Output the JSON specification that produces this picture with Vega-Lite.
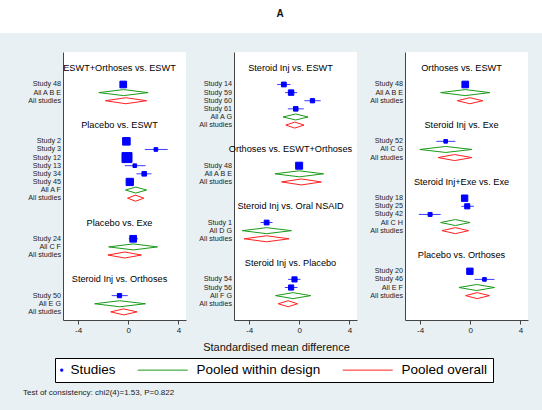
{
 "$schema": "https://vega.github.io/schema/vega-lite/v6.json",
 "background": "#e9f0f3",
 "padding": {"left": 0, "top": 0, "right": 0, "bottom": 14},
 "config": {"font": "Liberation Sans", "view": {"stroke": null}, "legend": {"labelFont": "Liberation Sans"}},
 "title": {"text": "Test of consistency: chi2(4)=1.53, P=0.822", "orient": "bottom", "anchor": "start", "fontSize": 8, "fontWeight": "normal", "color": "#222", "offset": 6, "dx": 23, "baseline": "top", "frame": "bounds"},
 "datasets": {"rows": [
  {"p":1,"row":2,"type":"title","label":"ESWT+Orthoses vs. ESWT"},
  {"p":1,"row":4,"type":"study","kind":"Studies","label":"Study 48","est":-0.4,"lo":-0.55,"hi":-0.25,"w":54},
  {"p":1,"row":5,"type":"diamond","kind":"Pooled within design","label":"All A B E","est":-0.38,"lo":-2.35,"hi":1.58},
  {"p":1,"row":6,"type":"diamond","kind":"Pooled overall","label":"All studies","est":-0.2,"lo":-1.82,"hi":1.46},
  {"p":1,"row":9,"type":"title","label":"Placebo vs. ESWT"},
  {"p":1,"row":11,"type":"study","kind":"Studies","label":"Study 2","est":-0.15,"lo":-0.4,"hi":0.1,"w":69},
  {"p":1,"row":12,"type":"study","kind":"Studies","label":"Study 3","est":2.2,"lo":1.32,"hi":3.14,"w":16},
  {"p":1,"row":13,"type":"study","kind":"Studies","label":"Study 12","est":-0.1,"lo":-0.3,"hi":0.1,"w":121},
  {"p":1,"row":14,"type":"study","kind":"Studies","label":"Study 13","est":0.52,"lo":-0.28,"hi":1.38,"w":16},
  {"p":1,"row":15,"type":"study","kind":"Studies","label":"Study 34","est":1.27,"lo":0.65,"hi":1.85,"w":25},
  {"p":1,"row":16,"type":"study","kind":"Studies","label":"Study 45","est":0.12,"lo":-0.15,"hi":0.4,"w":64},
  {"p":1,"row":17,"type":"diamond","kind":"Pooled within design","label":"All A F","est":0.6,"lo":-0.22,"hi":1.46},
  {"p":1,"row":18,"type":"diamond","kind":"Pooled overall","label":"All studies","est":0.58,"lo":-0.06,"hi":1.24},
  {"p":1,"row":21,"type":"title","label":"Placebo vs. Exe"},
  {"p":1,"row":23,"type":"study","kind":"Studies","label":"Study 24","est":0.39,"lo":0.04,"hi":0.78,"w":54},
  {"p":1,"row":24,"type":"diamond","kind":"Pooled within design","label":"All C F","est":0.39,"lo":-1.56,"hi":2.33},
  {"p":1,"row":25,"type":"diamond","kind":"Pooled overall","label":"All studies","est":-0.28,"lo":-1.62,"hi":1.05},
  {"p":1,"row":28,"type":"title","label":"Steroid Inj vs. Orthoses"},
  {"p":1,"row":30,"type":"study","kind":"Studies","label":"Study 50","est":-0.7,"lo":-1.32,"hi":-0.04,"w":22},
  {"p":1,"row":31,"type":"diamond","kind":"Pooled within design","label":"All E G","est":-0.68,"lo":-2.68,"hi":1.37},
  {"p":1,"row":32,"type":"diamond","kind":"Pooled overall","label":"All studies","est":-0.36,"lo":-1.4,"hi":0.7},

  {"p":2,"row":2,"type":"title","label":"Steroid Inj vs. ESWT"},
  {"p":2,"row":4,"type":"study","kind":"Studies","label":"Study 14","est":-1.23,"lo":-1.76,"hi":-0.7,"w":28},
  {"p":2,"row":5,"type":"study","kind":"Studies","label":"Study 59","est":-0.65,"lo":-1.13,"hi":-0.17,"w":36},
  {"p":2,"row":6,"type":"study","kind":"Studies","label":"Study 60","est":1.05,"lo":0.41,"hi":1.71,"w":22},
  {"p":2,"row":7,"type":"study","kind":"Studies","label":"Study 61","est":-0.28,"lo":-0.91,"hi":0.36,"w":25},
  {"p":2,"row":8,"type":"diamond","kind":"Pooled within design","label":"All A G","est":-0.28,"lo":-1.29,"hi":0.7},
  {"p":2,"row":9,"type":"diamond","kind":"Pooled overall","label":"All studies","est":-0.36,"lo":-1.07,"hi":0.38},
  {"p":2,"row":12,"type":"title","label":"Orthoses vs. ESWT+Orthoses"},
  {"p":2,"row":14,"type":"study","kind":"Studies","label":"Study 48","est":-0.01,"lo":-0.25,"hi":0.25,"w":59},
  {"p":2,"row":15,"type":"diamond","kind":"Pooled within design","label":"All A B E","est":0.0,"lo":-1.94,"hi":1.94},
  {"p":2,"row":16,"type":"diamond","kind":"Pooled overall","label":"All studies","est":0.17,"lo":-1.41,"hi":1.76},
  {"p":2,"row":19,"type":"title","label":"Steroid Inj vs. Oral NSAID"},
  {"p":2,"row":21,"type":"study","kind":"Studies","label":"Study 1","est":-2.6,"lo":-3.08,"hi":-2.13,"w":28},
  {"p":2,"row":22,"type":"diamond","kind":"Pooled within design","label":"All D G","est":-2.6,"lo":-4.54,"hi":-0.62},
  {"p":2,"row":23,"type":"diamond","kind":"Pooled overall","label":"All studies","est":-2.6,"lo":-4.4,"hi":-0.81},
  {"p":2,"row":26,"type":"title","label":"Steroid Inj vs. Placebo"},
  {"p":2,"row":28,"type":"study","kind":"Studies","label":"Study 54","est":-0.38,"lo":-0.89,"hi":0.09,"w":32},
  {"p":2,"row":29,"type":"study","kind":"Studies","label":"Study 56","est":-0.65,"lo":-1.15,"hi":-0.14,"w":32},
  {"p":2,"row":30,"type":"diamond","kind":"Pooled within design","label":"All F G","est":-0.49,"lo":-1.89,"hi":0.91},
  {"p":2,"row":31,"type":"diamond","kind":"Pooled overall","label":"All studies","est":-0.89,"lo":-1.68,"hi":-0.14},

  {"p":3,"row":2,"type":"title","label":"Orthoses vs. ESWT"},
  {"p":3,"row":4,"type":"study","kind":"Studies","label":"Study 48","est":-0.4,"lo":-0.6,"hi":-0.2,"w":54},
  {"p":3,"row":5,"type":"diamond","kind":"Pooled within design","label":"All A B E","est":-0.4,"lo":-2.36,"hi":1.56},
  {"p":3,"row":6,"type":"diamond","kind":"Pooled overall","label":"All studies","est":-0.03,"lo":-1.03,"hi":1.0},
  {"p":3,"row":9,"type":"title","label":"Steroid Inj vs. Exe"},
  {"p":3,"row":11,"type":"study","kind":"Studies","label":"Study 52","est":-1.96,"lo":-2.7,"hi":-1.19,"w":16},
  {"p":3,"row":12,"type":"diamond","kind":"Pooled within design","label":"All C G","est":-1.96,"lo":-4.02,"hi":0.13},
  {"p":3,"row":13,"type":"diamond","kind":"Pooled overall","label":"All studies","est":-1.25,"lo":-2.57,"hi":0.13},
  {"p":3,"row":16,"type":"title","label":"Steroid Inj+Exe vs. Exe"},
  {"p":3,"row":18,"type":"study","kind":"Studies","label":"Study 18","est":-0.45,"lo":-0.65,"hi":-0.25,"w":49},
  {"p":3,"row":19,"type":"study","kind":"Studies","label":"Study 25","est":-0.24,"lo":-0.71,"hi":0.29,"w":32},
  {"p":3,"row":20,"type":"study","kind":"Studies","label":"Study 42","est":-3.2,"lo":-4.1,"hi":-2.36,"w":19},
  {"p":3,"row":21,"type":"diamond","kind":"Pooled within design","label":"All C H","est":-1.19,"lo":-2.36,"hi":-0.03},
  {"p":3,"row":22,"type":"diamond","kind":"Pooled overall","label":"All studies","est":-1.19,"lo":-2.25,"hi":-0.13},
  {"p":3,"row":25,"type":"title","label":"Placebo vs. Orthoses"},
  {"p":3,"row":27,"type":"study","kind":"Studies","label":"Study 20","est":-0.03,"lo":-0.25,"hi":0.2,"w":49},
  {"p":3,"row":28,"type":"study","kind":"Studies","label":"Study 46","est":1.13,"lo":0.34,"hi":1.93,"w":16},
  {"p":3,"row":29,"type":"diamond","kind":"Pooled within design","label":"All E F","est":0.5,"lo":-0.9,"hi":1.93},
  {"p":3,"row":30,"type":"diamond","kind":"Pooled overall","label":"All studies","est":0.55,"lo":-0.37,"hi":1.53}
 ]},
 "bounds": "flush",
 "spacing": 19,
 "vconcat": [
  {"width": 542, "height": 33, "view": {"fill": "white"},
   "data": {"values": [{"t": "A"}]},
   "mark": {"type": "text", "fontWeight": "bold", "fontSize": 10, "dx": 9, "dy": -3, "color": "#111"},
   "encoding": {"text": {"field": "t"}}},
  {"bounds": "flush", "spacing": 48, "hconcat": [
   {"width": 15, "height": 268, "data": {"values": [{"t": ""}]}, "mark": {"type": "text"}, "encoding": {"text": {"field": "t"}}},
   {"width": 123, "height": 268, "view": {"fill": "white"}, "data": {"name": "rows"}, "transform": [{"filter": "datum.p == 1"}],
    "layer": [
     {"transform": [{"filter": "datum.type != 'title'"}], "mark": {"type": "text", "align": "right", "baseline": "middle", "dx": -2, "fontSize": 7.2, "color": "#222"},
      "encoding": {"x": {"datum": -5.2, "type": "quantitative", "scale": {"domain": [-5.2, 4.6], "nice": false, "zero": false}, "axis": {"values": [-4,-2,0,2,4], "grid": false, "tickSize": 4, "labelFontSize": 8, "labelExpr": "'' + datum.value", "domainColor": "#444", "tickColor": "#444", "labelColor": "#222", "labelPadding": 2, "labelFlush": false, "title": null}},
       "y": {"field": "row", "type": "quantitative", "scale": {"domain": [0, 33], "reverse": true, "nice": false, "zero": false}, "axis": {"title": null, "labels": false, "ticks": false, "grid": false, "domainColor": "#444"}},
       "text": {"field": "label"}}},
     {"transform": [{"filter": "datum.type == 'title'"}], "mark": {"type": "text", "align": "center", "baseline": "middle", "dx": -5, "fontSize": 9.2, "color": "#000"},
      "encoding": {"y": {"field": "row", "type": "quantitative"}, "text": {"field": "label"}}},
     {"transform": [{"filter": "datum.type == 'study'"}], "mark": {"type": "rule", "color": "#3d3dff", "strokeWidth": 1},
      "encoding": {"x": {"field": "lo", "type": "quantitative"}, "x2": {"field": "hi"}, "y": {"field": "row", "type": "quantitative"}}},
     {"transform": [{"filter": "datum.type == 'study'"}], "mark": {"type": "point", "shape": "square", "filled": false, "fill": "#0000ff", "strokeWidth": 1, "opacity": 1},
      "encoding": {"x": {"field": "est", "type": "quantitative"}, "y": {"field": "row", "type": "quantitative"},
       "size": {"field": "w", "type": "quantitative", "scale": {"domain": [0, 121], "range": [0, 100]}, "legend": null},
       "color": {"field": "kind", "type": "nominal", "scale": {"domain": ["Studies", "Pooled within design", "Pooled overall"], "range": ["#0000ff", "#1a9a1a", "#ff2020"]},
        "legend": {"title": null, "orient": "none", "legendX": 55, "legendY": 358, "direction": "horizontal", "symbolSize": 4, "symbolStrokeWidth": 1, "symbolOpacity": 1, "symbolFillColor": "#0000ff", "labelFontSize": 13.5, "labelColor": "#000", "labelOffset": -3, "columnPadding": 19, "padding": 5, "strokeColor": "#000", "fillColor": "#fff", "labelLimit": 0}}}},
     {"transform": [{"filter": "false"}], "mark": {"type": "point", "filled": false, "fill": "#0000ff", "strokeWidth": 1},
      "encoding": {"x": {"field": "est", "type": "quantitative"}, "y": {"field": "row", "type": "quantitative"},
       "shape": {"field": "kind", "type": "nominal", "scale": {"domain": ["Studies", "Pooled within design", "Pooled overall"], "range": ["M-6,-1H-4V1H-6Z", "M-55,0H-5", "M-55,0H-5"]},
        "legend": {"title": null, "orient": "none", "legendX": 55, "legendY": 358, "direction": "horizontal", "symbolSize": 4, "symbolStrokeWidth": 1, "symbolOpacity": 1, "symbolFillColor": "#0000ff", "labelFontSize": 13.5, "labelColor": "#000", "labelOffset": -3, "columnPadding": 19, "padding": 5, "strokeColor": "#000", "fillColor": "#fff", "labelLimit": 0}},
       "color": {"field": "kind", "type": "nominal", "scale": {"domain": ["Studies", "Pooled within design", "Pooled overall"], "range": ["#0000ff", "#1a9a1a", "#ff2020"]}}}},
     {"transform": [{"filter": "datum.type == 'diamond'"}], "mark": {"type": "rule", "strokeWidth": 1, "y2Offset": -3},
      "encoding": {"x": {"field": "lo", "type": "quantitative"}, "x2": {"field": "est"}, "y": {"field": "row", "type": "quantitative"}, "y2": {"field": "row"}, "color": {"field": "kind", "type": "nominal"}}},
     {"transform": [{"filter": "datum.type == 'diamond'"}], "mark": {"type": "rule", "strokeWidth": 1, "y2Offset": 3},
      "encoding": {"x": {"field": "lo", "type": "quantitative"}, "x2": {"field": "est"}, "y": {"field": "row", "type": "quantitative"}, "y2": {"field": "row"}, "color": {"field": "kind", "type": "nominal"}}},
     {"transform": [{"filter": "datum.type == 'diamond'"}], "mark": {"type": "rule", "strokeWidth": 1, "yOffset": -3},
      "encoding": {"x": {"field": "est", "type": "quantitative"}, "x2": {"field": "hi"}, "y": {"field": "row", "type": "quantitative"}, "y2": {"field": "row"}, "color": {"field": "kind", "type": "nominal"}}},
     {"transform": [{"filter": "datum.type == 'diamond'"}], "mark": {"type": "rule", "strokeWidth": 1, "yOffset": 3},
      "encoding": {"x": {"field": "est", "type": "quantitative"}, "x2": {"field": "hi"}, "y": {"field": "row", "type": "quantitative"}, "y2": {"field": "row"}, "color": {"field": "kind", "type": "nominal"}}}
    ]},
   {"width": 123, "height": 268, "view": {"fill": "white"}, "data": {"name": "rows"}, "transform": [{"filter": "datum.p == 2"}],
    "layer": [
     {"transform": [{"filter": "datum.type != 'title'"}], "mark": {"type": "text", "align": "right", "baseline": "middle", "dx": -2, "fontSize": 7.2, "color": "#222"},
      "encoding": {"x": {"datum": -5.2, "type": "quantitative", "scale": {"domain": [-5.2, 4.6], "nice": false, "zero": false}, "axis": {"values": [-4,-2,0,2,4], "grid": false, "tickSize": 4, "labelFontSize": 8, "labelExpr": "'' + datum.value", "domainColor": "#444", "tickColor": "#444", "labelColor": "#222", "labelPadding": 2, "labelFlush": false, "title": "Standardised mean difference", "titleFontSize": 11, "titleFontWeight": "normal", "titleColor": "#111", "titleX": 42, "titleY": 27, "titleBaseline": "middle", "titleAlign": "center"}},
       "y": {"field": "row", "type": "quantitative", "scale": {"domain": [0, 33], "reverse": true, "nice": false, "zero": false}, "axis": {"title": null, "labels": false, "ticks": false, "grid": false, "domainColor": "#444"}},
       "text": {"field": "label"}}},
     {"transform": [{"filter": "datum.type == 'title'"}], "mark": {"type": "text", "align": "center", "baseline": "middle", "dx": -5, "fontSize": 9.2, "color": "#000"},
      "encoding": {"y": {"field": "row", "type": "quantitative"}, "text": {"field": "label"}}},
     {"transform": [{"filter": "datum.type == 'study'"}], "mark": {"type": "rule", "color": "#3d3dff", "strokeWidth": 1},
      "encoding": {"x": {"field": "lo", "type": "quantitative"}, "x2": {"field": "hi"}, "y": {"field": "row", "type": "quantitative"}}},
     {"transform": [{"filter": "datum.type == 'study'"}], "mark": {"type": "point", "shape": "square", "filled": false, "fill": "#0000ff", "strokeWidth": 1, "opacity": 1},
      "encoding": {"x": {"field": "est", "type": "quantitative"}, "y": {"field": "row", "type": "quantitative"},
       "size": {"field": "w", "type": "quantitative", "scale": {"domain": [0, 121], "range": [0, 100]}, "legend": null},
       "color": {"field": "kind", "type": "nominal", "scale": {"domain": ["Studies", "Pooled within design", "Pooled overall"], "range": ["#0000ff", "#1a9a1a", "#ff2020"]}}}},
     {"transform": [{"filter": "datum.type == 'diamond'"}], "mark": {"type": "rule", "strokeWidth": 1, "y2Offset": -3},
      "encoding": {"x": {"field": "lo", "type": "quantitative"}, "x2": {"field": "est"}, "y": {"field": "row", "type": "quantitative"}, "y2": {"field": "row"}, "color": {"field": "kind", "type": "nominal"}}},
     {"transform": [{"filter": "datum.type == 'diamond'"}], "mark": {"type": "rule", "strokeWidth": 1, "y2Offset": 3},
      "encoding": {"x": {"field": "lo", "type": "quantitative"}, "x2": {"field": "est"}, "y": {"field": "row", "type": "quantitative"}, "y2": {"field": "row"}, "color": {"field": "kind", "type": "nominal"}}},
     {"transform": [{"filter": "datum.type == 'diamond'"}], "mark": {"type": "rule", "strokeWidth": 1, "yOffset": -3},
      "encoding": {"x": {"field": "est", "type": "quantitative"}, "x2": {"field": "hi"}, "y": {"field": "row", "type": "quantitative"}, "y2": {"field": "row"}, "color": {"field": "kind", "type": "nominal"}}},
     {"transform": [{"filter": "datum.type == 'diamond'"}], "mark": {"type": "rule", "strokeWidth": 1, "yOffset": 3},
      "encoding": {"x": {"field": "est", "type": "quantitative"}, "x2": {"field": "hi"}, "y": {"field": "row", "type": "quantitative"}, "y2": {"field": "row"}, "color": {"field": "kind", "type": "nominal"}}}
    ]},
   {"width": 123, "height": 268, "view": {"fill": "white"}, "data": {"name": "rows"}, "transform": [{"filter": "datum.p == 3"}],
    "layer": [
     {"transform": [{"filter": "datum.type != 'title'"}], "mark": {"type": "text", "align": "right", "baseline": "middle", "dx": -2, "fontSize": 7.2, "color": "#222"},
      "encoding": {"x": {"datum": -5.2, "type": "quantitative", "scale": {"domain": [-5.2, 4.6], "nice": false, "zero": false}, "axis": {"values": [-4,-2,0,2,4], "grid": false, "tickSize": 4, "labelFontSize": 8, "labelExpr": "'' + datum.value", "domainColor": "#444", "tickColor": "#444", "labelColor": "#222", "labelPadding": 2, "labelFlush": false, "title": null}},
       "y": {"field": "row", "type": "quantitative", "scale": {"domain": [0, 33], "reverse": true, "nice": false, "zero": false}, "axis": {"title": null, "labels": false, "ticks": false, "grid": false, "domainColor": "#444"}},
       "text": {"field": "label"}}},
     {"transform": [{"filter": "datum.type == 'title'"}], "mark": {"type": "text", "align": "center", "baseline": "middle", "dx": -5, "fontSize": 9.2, "color": "#000"},
      "encoding": {"y": {"field": "row", "type": "quantitative"}, "text": {"field": "label"}}},
     {"transform": [{"filter": "datum.type == 'study'"}], "mark": {"type": "rule", "color": "#3d3dff", "strokeWidth": 1},
      "encoding": {"x": {"field": "lo", "type": "quantitative"}, "x2": {"field": "hi"}, "y": {"field": "row", "type": "quantitative"}}},
     {"transform": [{"filter": "datum.type == 'study'"}], "mark": {"type": "point", "shape": "square", "filled": false, "fill": "#0000ff", "strokeWidth": 1, "opacity": 1},
      "encoding": {"x": {"field": "est", "type": "quantitative"}, "y": {"field": "row", "type": "quantitative"},
       "size": {"field": "w", "type": "quantitative", "scale": {"domain": [0, 121], "range": [0, 100]}, "legend": null},
       "color": {"field": "kind", "type": "nominal", "scale": {"domain": ["Studies", "Pooled within design", "Pooled overall"], "range": ["#0000ff", "#1a9a1a", "#ff2020"]}}}},
     {"transform": [{"filter": "datum.type == 'diamond'"}], "mark": {"type": "rule", "strokeWidth": 1, "y2Offset": -3},
      "encoding": {"x": {"field": "lo", "type": "quantitative"}, "x2": {"field": "est"}, "y": {"field": "row", "type": "quantitative"}, "y2": {"field": "row"}, "color": {"field": "kind", "type": "nominal"}}},
     {"transform": [{"filter": "datum.type == 'diamond'"}], "mark": {"type": "rule", "strokeWidth": 1, "y2Offset": 3},
      "encoding": {"x": {"field": "lo", "type": "quantitative"}, "x2": {"field": "est"}, "y": {"field": "row", "type": "quantitative"}, "y2": {"field": "row"}, "color": {"field": "kind", "type": "nominal"}}},
     {"transform": [{"filter": "datum.type == 'diamond'"}], "mark": {"type": "rule", "strokeWidth": 1, "yOffset": -3},
      "encoding": {"x": {"field": "est", "type": "quantitative"}, "x2": {"field": "hi"}, "y": {"field": "row", "type": "quantitative"}, "y2": {"field": "row"}, "color": {"field": "kind", "type": "nominal"}}},
     {"transform": [{"filter": "datum.type == 'diamond'"}], "mark": {"type": "rule", "strokeWidth": 1, "yOffset": 3},
      "encoding": {"x": {"field": "est", "type": "quantitative"}, "x2": {"field": "hi"}, "y": {"field": "row", "type": "quantitative"}, "y2": {"field": "row"}, "color": {"field": "kind", "type": "nominal"}}}
    ]}
  ]}
 ]
}
